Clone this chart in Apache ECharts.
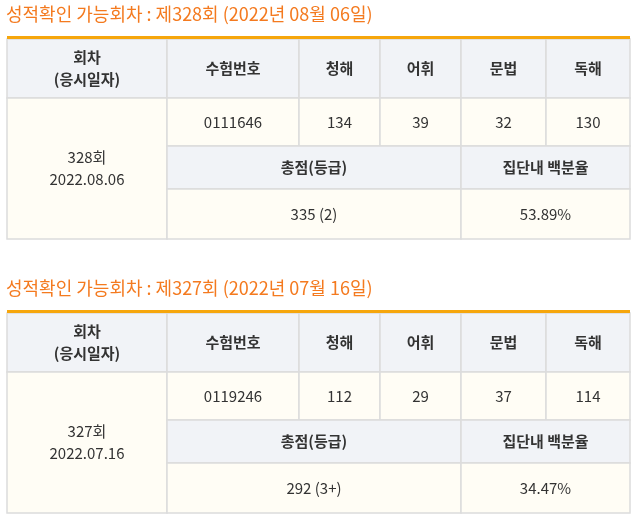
<!DOCTYPE html><html><head><meta charset="utf-8"><script src="https://cdn.jsdelivr.net/npm/echarts@6/dist/echarts.min.js"></script>
<style>html,body{margin:0;padding:0;background:#fff}#c{width:640px;height:523px}</style></head><body><div id="c"></div><script>
const titles=['성적확인 가능회차 : 제328회 (2022년 08월 06일)','성적확인 가능회차 : 제327회 (2022년 07월 16일)'];
const headers=['회차\n(응시일자)','수험번호','청해','어휘','문법','독해'];
const subHeaders=['총점(등급)','집단내 백분율'];
const sessions=['328회\n2022.08.06','327회\n2022.07.16'];
const examNos=['0111646','0119246'];
const listening=[134,112];
const vocab=[39,29];
const grammar=[32,37];
const reading=[130,114];
const totals=['335 (2)','292 (3+)'];
const percentiles=['53.89%','34.47%'];
const chart=echarts.init(document.getElementById('c'));
const F='"Noto Sans CJK KR","Noto Sans",sans-serif';
const cols=[7,167,299,380,461,546,630];
const els=[];
function rect(x,y,w,h,fill){els.push({type:'rect',shape:{x:x,y:y,width:w,height:h},style:{fill:fill,stroke:'#dcdcdc',lineWidth:1.5}});}
function txt(x,y,t,bold,size,color){els.push({type:'text',x:x,y:y,style:{text:String(t),font:(bold?'bold ':'')+(size||15)+'px '+F,fill:color||'#333',align:'center',verticalAlign:'middle',lineHeight:22}});}
const HG='#f1f3f7',BG='#fffdf5';
for(let k=0;k<2;k++){
 const o=k*274;
 els.push({type:'text',x:6,y:14+o,style:{text:titles[k],font:'18px '+F,fill:'#f47a1f',verticalAlign:'middle'}});
 const y0=39+o,y1=98+o,y2=146+o,y3=189+o,y4=239+o;
 for(let i=0;i<6;i++){rect(cols[i],y0,cols[i+1]-cols[i],y1-y0,HG);txt((cols[i]+cols[i+1])/2,(y0+y1)/2,headers[i],true);}
 rect(cols[0],y1,cols[1]-cols[0],y4-y1,BG);txt((cols[0]+cols[1])/2,(y1+y4)/2,sessions[k]);
 const vals=[examNos[k],listening[k],vocab[k],grammar[k],reading[k]];
 for(let i=1;i<6;i++){rect(cols[i],y1,cols[i+1]-cols[i],y2-y1,BG);txt((cols[i]+cols[i+1])/2,(y1+y2)/2,vals[i-1]);}
 rect(cols[1],y2,cols[4]-cols[1],y3-y2,HG);txt((cols[1]+cols[4])/2,(y2+y3)/2,subHeaders[0],true);
 rect(cols[4],y2,cols[6]-cols[4],y3-y2,HG);txt((cols[4]+cols[6])/2,(y2+y3)/2,subHeaders[1],true);
 rect(cols[1],y3,cols[4]-cols[1],y4-y3,BG);txt((cols[1]+cols[4])/2,(y3+y4)/2,totals[k]);
 rect(cols[4],y3,cols[6]-cols[4],y4-y3,BG);txt((cols[4]+cols[6])/2,(y3+y4)/2,percentiles[k]);
 els.push({type:'rect',shape:{x:cols[0],y:y0-3,width:cols[6]-cols[0],height:3},style:{fill:'#f6a60c'}});
}
chart.setOption({animation:false,graphic:els});
</script></body></html>
